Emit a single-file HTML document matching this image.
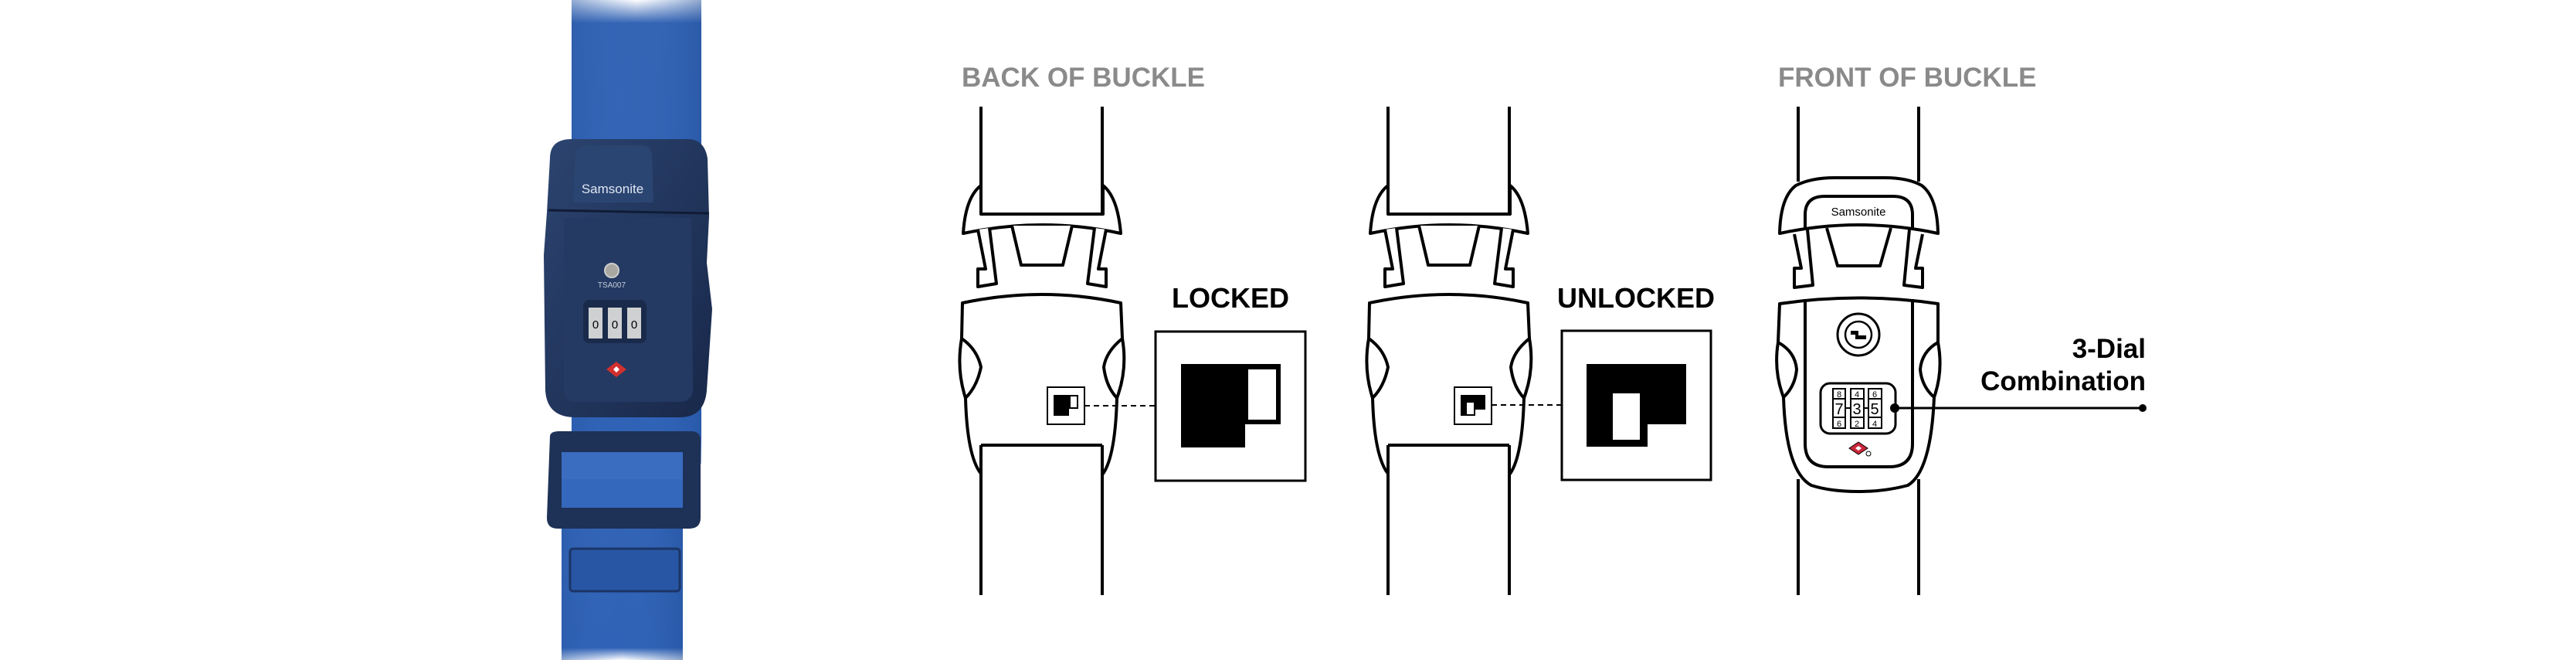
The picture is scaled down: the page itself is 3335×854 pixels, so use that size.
<!DOCTYPE html>
<html><head><meta charset="utf-8"><style>
html,body{margin:0;padding:0;background:#fff;}
svg{display:block;}
text{font-family:"Liberation Sans",Arial,sans-serif;}
</style></head><body>
<svg width="3335" height="854" viewBox="0 0 3335 854" xmlns="http://www.w3.org/2000/svg">
<defs>
<linearGradient id="strapG" x1="0" y1="0" x2="0" y2="1">
<stop offset="0" stop-color="#ffffff"/><stop offset="0.05" stop-color="#3464b4"/><stop offset="0.94" stop-color="#2f62b6"/><stop offset="1" stop-color="#ffffff"/>
</linearGradient>
<linearGradient id="strapH" x1="0" y1="0" x2="1" y2="0">
<stop offset="0" stop-color="#2a5aa8" stop-opacity="0.5"/><stop offset="0.5" stop-color="#3b6fc2" stop-opacity="0"/><stop offset="1" stop-color="#22509c" stop-opacity="0.5"/>
</linearGradient>
<linearGradient id="bodyG" x1="0" y1="0" x2="1" y2="1">
<stop offset="0" stop-color="#2c4470"/><stop offset="1" stop-color="#18284a"/>
</linearGradient>
</defs>

<!-- PHOTO -->
<rect x="740" y="0" width="168" height="600" fill="url(#strapG)"/>
<rect x="740" y="0" width="168" height="600" fill="url(#strapH)"/>
<rect x="727" y="590" width="157" height="264" fill="url(#strapG)"/>
<rect x="727" y="590" width="157" height="264" fill="url(#strapH)"/>
<rect x="738" y="710" width="142" height="55" rx="4" fill="#2856a4" stroke="#1c3566" stroke-width="3"/>
<!-- slider -->
<path d="M712 565 Q712 558 724 558 L895 558 Q907 558 907 570 L907 670 Q907 684 892 684 L722 684 Q708 684 708 670 Z" fill="#1e3156"/>
<rect x="727" y="585" width="157" height="72" fill="#3a6cc0"/>
<rect x="727" y="620" width="157" height="37" fill="#3468bc"/>
<!-- body -->
<path d="M712 205 Q712 180 740 180 L890 180 Q912 180 916 205 L918 280 L915 340 L922 400 L915 505 Q912 540 880 540 L745 540 Q708 540 706 505 L704 330 L708 275 Z" fill="url(#bodyG)"/>
<path d="M710 272 L918 276" stroke="#101c36" stroke-width="3"/>
<path d="M745 200 Q748 188 760 188 L832 188 Q842 188 844 200 L846 262 L742 262 Z" fill="#2b4572"/>
<text x="793" y="250" font-size="17" fill="#dfe6f2" text-anchor="middle">Samsonite</text>
<path d="M730 282 L895 282 L897 505 Q895 520 880 520 L745 520 Q730 520 730 505 Z" fill="#243a63"/>
<circle cx="792" cy="350" r="9" fill="#a8a8a0" stroke="#ccc" stroke-width="2"/>
<text x="792" y="372" font-size="10" fill="#c5ccd8" text-anchor="middle">TSA007</text>
<rect x="755" y="388" width="82" height="56" rx="8" fill="#1a2a4b"/>
<rect x="762" y="398" width="18" height="40" fill="#cfd0d2"/>
<rect x="787" y="398" width="18" height="40" fill="#cfd0d2"/>
<rect x="812" y="398" width="18" height="40" fill="#cfd0d2"/>
<text x="771" y="425" font-size="15" text-anchor="middle">0</text>
<text x="796" y="425" font-size="15" text-anchor="middle">0</text>
<text x="821" y="425" font-size="15" text-anchor="middle">0</text>
<path d="M785 478 L798 468 L811 478 L798 488 Z" fill="#d22f2f"/>
<path d="M794 478 L798 474 L802 478 L798 482 Z" fill="#fff"/>

<!-- TITLES -->
<text x="1245" y="112" font-size="35" font-weight="bold" fill="#8a8a8a">BACK OF BUCKLE</text>
<text x="2302" y="112" font-size="35" font-weight="bold" fill="#8a8a8a">FRONT OF BUCKLE</text>
<text x="1593" y="398" font-size="36" font-weight="bold" text-anchor="middle">LOCKED</text>
<text x="2118" y="398" font-size="36" font-weight="bold" text-anchor="middle">UNLOCKED</text>
<text x="2778" y="463" font-size="35" font-weight="bold" text-anchor="end">3-Dial</text>
<text x="2778" y="505" font-size="35" font-weight="bold" text-anchor="end">Combination</text>

<!-- BACK BUCKLE template -->
<g id="bk" fill="#fff" stroke="#000" stroke-width="4" stroke-linejoin="round">
<path d="M1270 138 L1270 277 L1427 277 L1427 138" fill="none"/>
<path d="M1270 240 Q1250 255 1247 302 Q1350 280 1451 302 Q1447 255 1428 240 L1428 277 L1270 277 Z"/>
<path d="M1266 297 L1276 348 L1266 348 L1266 371 L1290 367 L1281 295"/>
<path d="M1432 297 L1422 348 L1432 348 L1432 371 L1408 367 L1417 295"/>
<path d="M1310 292 L1322 343 L1376 343 L1388 292"/>
<path d="M1246 392 Q1349 370 1451 392 L1453 438 Q1432 455 1429 475 Q1432 500 1446 515 Q1444 590 1428 613 L1270 613 Q1252 590 1250 515 Q1265 500 1270 475 Q1265 452 1245 438 Z"/>
<path d="M1245 438 Q1238 478 1250 515" fill="none"/>
<path d="M1453 438 Q1460 478 1446 515" fill="none"/>
<rect x="1270" y="576" width="157" height="200" stroke="none"/>
<path d="M1270 576 L1427 576 M1270 576 L1270 770 M1427 576 L1427 770" fill="none"/>
</g>
<use href="#bk" x="527"/>

<!-- locked icons -->
<rect x="1356" y="501" width="48" height="48" fill="#fff" stroke="#000" stroke-width="2"/>
<rect x="1364" y="511" width="32" height="18" fill="#000"/>
<rect x="1364" y="529" width="20" height="9" fill="#000"/>
<rect x="1386" y="513" width="8" height="14" fill="#fff"/>
<line x1="1404" y1="525" x2="1495" y2="525" stroke="#000" stroke-width="2" stroke-dasharray="7,5"/>
<rect x="1496" y="429" width="194" height="193" fill="#fff" stroke="#000" stroke-width="3"/>
<rect x="1529" y="471" width="129" height="78" fill="#000"/>
<rect x="1529" y="549" width="83" height="30" fill="#000"/>
<rect x="1616" y="478" width="36" height="65" fill="#fff"/>

<!-- unlocked icons -->
<rect x="1883" y="501" width="48" height="48" fill="#fff" stroke="#000" stroke-width="2"/>
<rect x="1891" y="511" width="32" height="19" fill="#000"/>
<rect x="1891" y="530" width="19" height="8" fill="#000"/>
<rect x="1899" y="521" width="9" height="15" fill="#fff"/>
<line x1="1931" y1="524" x2="2021" y2="524" stroke="#000" stroke-width="2" stroke-dasharray="7,5"/>
<rect x="2022" y="428" width="193" height="193" fill="#fff" stroke="#000" stroke-width="3"/>
<rect x="2054" y="471" width="129" height="78" fill="#000"/>
<rect x="2054" y="549" width="79" height="29" fill="#000"/>
<rect x="2088" y="509" width="35" height="60" fill="#fff"/>

<!-- FRONT BUCKLE -->
<g fill="#fff" stroke="#000" stroke-width="4" stroke-linejoin="round">
<path d="M2328 138 L2328 235 M2484 138 L2484 235" fill="none"/>
<path d="M2304 302 Q2305 255 2325 240 Q2345 230 2375 230 L2440 230 Q2470 230 2488 240 Q2508 255 2509 302 Q2406 280 2304 302 Z"/>
<path d="M2337 295 L2337 278 Q2337 254 2362 254 L2451 254 Q2476 254 2476 278 L2476 295" fill="none"/>
<path d="M2323 303 L2332 347 L2323 347 L2323 372 L2347 369 L2340 297"/>
<path d="M2489 303 L2480 347 L2489 347 L2489 372 L2465 369 L2472 297"/>
<path d="M2365 295 L2379 344 L2434 344 L2448 295"/>
<rect x="2328" y="620" width="156" height="150" stroke="none"/>
<path d="M2328 620 L2328 770 M2484 620 L2484 770" fill="none"/>
<path d="M2304 393 Q2406 378 2509 393 L2509 443 Q2488 455 2486 478 Q2488 500 2504 514 Q2500 610 2470 628 Q2440 636 2406 636 Q2370 636 2345 628 Q2312 610 2309 514 Q2324 500 2326 478 Q2324 455 2302 443 Z"/>
<path d="M2302 443 Q2296 480 2309 514 M2509 443 Q2516 480 2504 514" fill="none"/>
<path d="M2337 387 L2337 574 Q2337 604 2367 604 L2446 604 Q2476 604 2476 574 L2476 387" fill="none"/>
</g>
<text x="2406" y="279" font-size="15" text-anchor="middle">Samsonite</text>
<circle cx="2406" cy="433" r="27" fill="#fff" stroke="#000" stroke-width="3"/>
<circle cx="2406" cy="433" r="17" fill="#fff" stroke="#000" stroke-width="2.5"/>
<path d="M2396 428 L2406 428 L2406 434 L2416 434 L2416 439 L2402 439 L2402 433 L2396 433 Z" fill="#000"/>
<rect x="2357" y="496" width="97" height="65" rx="12" fill="#fff" stroke="#000" stroke-width="3"/>
<g fill="#fff" stroke="#000" stroke-width="2">
<rect x="2373" y="503" width="16" height="51"/><rect x="2396" y="503" width="17" height="51"/><rect x="2419" y="503" width="17" height="51"/>
<line x1="2373" y1="516" x2="2389" y2="516"/><line x1="2373" y1="540" x2="2389" y2="540"/>
<line x1="2396" y1="516" x2="2413" y2="516"/><line x1="2396" y1="540" x2="2413" y2="540"/>
<line x1="2419" y1="516" x2="2436" y2="516"/><line x1="2419" y1="540" x2="2436" y2="540"/>
<line x1="2389" y1="528" x2="2396" y2="528"/><line x1="2413" y1="528" x2="2419" y2="528"/>
</g>
<g font-size="11" text-anchor="middle">
<text x="2381" y="514">8</text><text x="2404" y="514">4</text><text x="2427" y="514">6</text>
<text x="2381" y="552">6</text><text x="2404" y="552">2</text><text x="2427" y="552">4</text>
</g>
<g font-size="20" text-anchor="middle">
<text x="2381" y="536">7</text><text x="2404" y="536">3</text><text x="2427" y="536">5</text>
</g>
<line x1="2453" y1="528" x2="2774" y2="528" stroke="#000" stroke-width="3"/>
<circle cx="2453" cy="528" r="6" fill="#000"/>
<circle cx="2774" cy="528" r="5" fill="#000"/>
<path d="M2394 580 L2406 572 L2418 580 L2406 588 Z" fill="#c8283a" stroke="#000" stroke-width="1"/>
<path d="M2402 580 L2406 577 L2410 580 L2406 583 Z" fill="#fff"/>
<circle cx="2419" cy="587" r="3" fill="none" stroke="#000" stroke-width="1"/>
</svg>
</body></html>
